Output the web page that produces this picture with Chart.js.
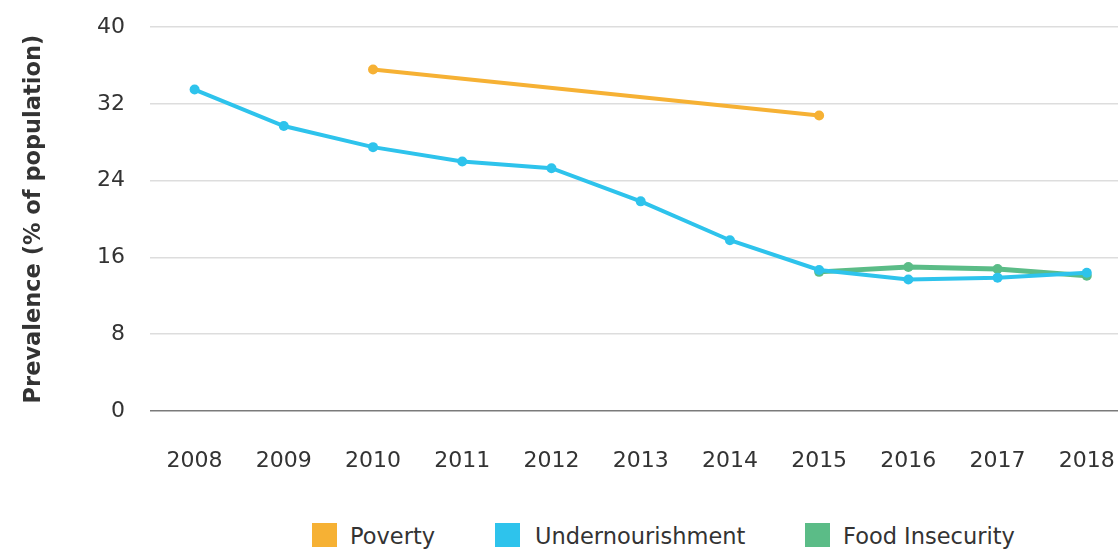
<!DOCTYPE html>
<html>
<head>
<meta charset="utf-8">
<script src="https://cdn.jsdelivr.net/npm/chart.js@4.4.1/dist/chart.umd.min.js"></script>
<style>
    html, body { margin: 0; padding: 0; background: #fff; overflow: hidden; }
    #wrap { position: relative; width: 1152px; height: 549px; overflow: hidden; }
    #chart { position: absolute; left: 0; top: -11px; }
    .legend-item { position: absolute; font-family: "DejaVu Sans", sans-serif; font-size: 22.5px; color: #333; line-height: 26px; white-space: nowrap; }
    .legend-box { position: absolute; width: 25px; height: 24px; top: 523px; }
</style>
</head>
<body>
<div id="wrap">
    <canvas id="chart" width="1152" height="492"></canvas>
    <div id="legend"></div>
</div>
<script>
// --- データ ---
const years = ['2008', '2009', '2010', '2011', '2012', '2013', '2014', '2015', '2016', '2017', '2018'];
const poverty = [null, null, 35.6, null, null, null, null, 30.8, null, null, null];
const undernourishment = [33.5, 29.7, 27.5, 26.0, 25.3, 21.85, 17.8, 14.7, 13.7, 13.9, 14.4];
const foodInsecurity = [null, null, null, null, null, null, null, 14.5, 15.0, 14.8, 14.1];
const yTicks = [0, 8, 16, 24, 32, 40];

const seriesNames = ['Poverty', 'Undernourishment', 'Food Insecurity'];
const seriesColors = ['#F6B134', '#2EC3EC', '#5BBC87'];

const FONT = '"DejaVu Sans", sans-serif';
const TEXT = '#333333';

function lineSet(label, data, color, width) {
    return {
        label: label,
        data: data,
        borderColor: color,
        backgroundColor: color,
        borderWidth: width,
        pointRadius: 5,
        pointBorderWidth: 0,
        pointBackgroundColor: color,
        spanGaps: true,
        tension: 0
    };
}

new Chart(document.getElementById('chart').getContext('2d'), {
    type: 'line',
    data: {
        labels: years,
        datasets: [
            lineSet(seriesNames[0], poverty, seriesColors[0], 4),
            lineSet(seriesNames[1], undernourishment, seriesColors[1], 4),
            lineSet(seriesNames[2], foodInsecurity, seriesColors[2], 5)
        ]
    },
    options: {
        responsive: false,
        animation: false,
        layout: { padding: { top: 15, left: 0, right: 0, bottom: 0 } },
        plugins: {
            legend: { display: false },
            tooltip: { enabled: false }
        },
        scales: {
            x: {
                offset: true,
                grid: { display: false, drawTicks: false },
                border: { display: false },
                ticks: {
                    padding: 37,
                    color: TEXT,
                    font: { family: FONT, size: 22 },
                    maxRotation: 0
                },
                afterFit: (axis) => { axis.height = 70; }
            },
            y: {
                min: 0,
                max: 40,
                afterBuildTicks: (axis) => { axis.ticks = yTicks.map(v => ({ value: v })); },
                grid: {
                    drawTicks: false,
                    lineWidth: 1.5,
                    color: (ctx) => ctx.tick && ctx.tick.value === 0 ? '#7a7a7a' : '#dddddd'
                },
                border: { display: false },
                ticks: {
                    padding: 25,
                    color: TEXT,
                    font: { family: FONT, size: 22 }
                },
                title: {
                    display: true,
                    text: 'Prevalence (% of population)',
                    color: TEXT,
                    font: { family: FONT, size: 22.5, weight: 'bold' },
                    padding: { top: 21, bottom: 0 }
                },
                afterFit: (axis) => { axis.width = 150; }
            }
        }
    }
});

// --- 凡例 (HTML) ---
const legendBoxLeft = [312, 495, 805];
const legendTextLeft = [350, 535, 843];
const legend = document.getElementById('legend');
seriesNames.forEach((name, i) => {
    const box = document.createElement('div');
    box.className = 'legend-box';
    box.style.left = legendBoxLeft[i] + 'px';
    box.style.background = seriesColors[i];
    legend.appendChild(box);

    const txt = document.createElement('div');
    txt.className = 'legend-item';
    txt.style.left = legendTextLeft[i] + 'px';
    txt.style.top = '523px';
    txt.textContent = name;
    legend.appendChild(txt);
});
</script>
</body>
</html>
